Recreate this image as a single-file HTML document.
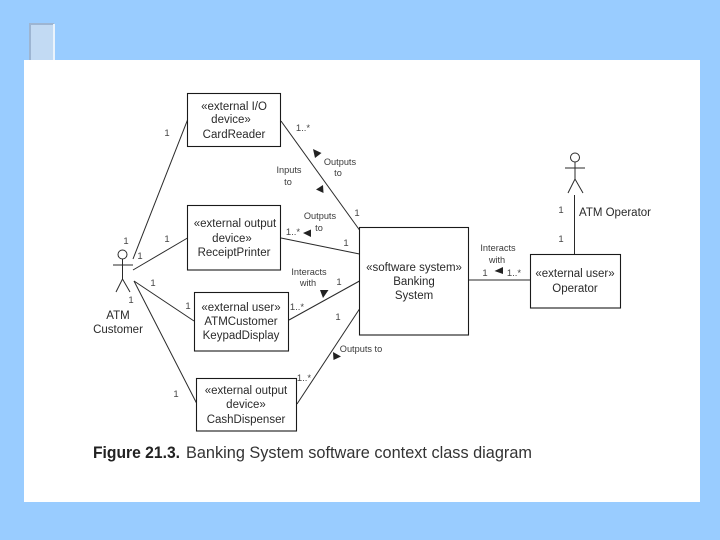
<!DOCTYPE html>
<html><head><meta charset="utf-8"><style>
html,body{margin:0;padding:0;width:720px;height:540px;overflow:hidden;background:#99CCFF}
svg{display:block}
text{font-family:"Liberation Sans",sans-serif;fill:#333;text-anchor:middle}
.b{font-size:11.5px;fill:#2a2a2a}
.s{font-size:9.2px;fill:#3a3a3a}
.n{font-size:9.5px;fill:#444}
rect.box{fill:#fff;stroke:#1a1a1a;stroke-width:1.1}
line,polyline{stroke:#2a2a2a;stroke-width:1;fill:none}
polygon{fill:#222}
.soft{filter:blur(0.3px)}
</style></head><body>
<svg width="720" height="540" viewBox="0 0 720 540" xmlns="http://www.w3.org/2000/svg">
<rect x="0" y="0" width="720" height="540" fill="#99CCFF"/>
<rect x="30" y="24" width="24" height="36" fill="#C2DAF3"/>
<rect x="29" y="24" width="2" height="36" fill="#9DB5D2"/>
<rect x="29" y="23" width="25" height="2" fill="#9DB5D2"/>
<rect x="53" y="24" width="2" height="36" fill="#EAF3FC"/>
<rect x="24" y="60" width="676" height="442" fill="#fff"/>

<g class="soft">
<!-- connectors -->
<line x1="187.5" y1="120" x2="133" y2="259"/>
<line x1="187.5" y1="238" x2="133" y2="270"/>
<line x1="194" y1="321" x2="134" y2="281"/>
<line x1="196.5" y1="403" x2="134" y2="281"/>
<line x1="281" y1="121" x2="359.5" y2="230"/>
<line x1="281" y1="238" x2="359.5" y2="254"/>
<line x1="289" y1="320" x2="359.5" y2="281"/>
<line x1="297" y1="404" x2="359.5" y2="309"/>
<line x1="468.5" y1="280" x2="530" y2="280"/>
<line x1="574.5" y1="195" x2="574.5" y2="254" stroke-width="1.2"/>

<!-- boxes -->
<rect class="box" x="187.5" y="93.5" width="93" height="53"/>
<rect class="box" x="187.5" y="205.5" width="93" height="64.5"/>
<rect class="box" x="194.5" y="292.5" width="94" height="58.5"/>
<rect class="box" x="196.5" y="378.5" width="100" height="52.5"/>
<rect class="box" x="359.5" y="227.5" width="109" height="107.5"/>
<rect class="box" x="530.5" y="254.5" width="90" height="53.5"/>

<!-- actors -->
<circle cx="122.5" cy="254.5" r="4.5" fill="#fff" stroke="#2a2a2a" stroke-width="1"/>
<line x1="122.5" y1="259" x2="122.5" y2="279"/>
<line x1="113" y1="265" x2="133" y2="265"/>
<polyline points="116,292 122.5,279 130,292"/>
<circle cx="575" cy="157.5" r="4.5" fill="#fff" stroke="#2a2a2a" stroke-width="1"/>
<line x1="575" y1="162" x2="575" y2="179"/>
<line x1="565" y1="168" x2="585" y2="168"/>
<polyline points="568,193 575,179 583,193"/>

<!-- arrowheads -->
<polygon points="313,149 321.5,153 315,158"/>
<polygon points="323,185 316,189.5 323.5,193"/>
<polygon points="303,233 311,229.5 311,237"/>
<polygon points="320,290 328.5,290 323,298"/>
<polygon points="333,352 341,356.5 333.5,360"/>
<polygon points="494.5,271 503,267 503,274"/>

<!-- box labels -->
<text class="b" x="234" y="110">«external I/O</text>
<text class="b" x="231" y="123">device»</text>
<text class="b" x="234" y="138">CardReader</text>
<text class="b" x="235" y="227">«external output</text>
<text class="b" x="232" y="242">device»</text>
<text class="b" x="234" y="256">ReceiptPrinter</text>
<text class="b" x="241" y="311">«external user»</text>
<text class="b" x="241" y="325">ATMCustomer</text>
<text class="b" x="241" y="339">KeypadDisplay</text>
<text class="b" x="246" y="394">«external output</text>
<text class="b" x="246" y="408">device»</text>
<text class="b" x="246" y="423">CashDispenser</text>
<text class="b" x="414" y="271">«software system»</text>
<text class="b" x="414" y="285">Banking</text>
<text class="b" x="414" y="299">System</text>
<text class="b" x="575" y="277">«external user»</text>
<text class="b" x="575" y="292">Operator</text>
<text class="b" x="118" y="319">ATM</text>
<text class="b" x="118" y="333">Customer</text>
<text class="b" x="615" y="216">ATM Operator</text>

<!-- connector labels -->
<text class="s" x="340" y="165">Outputs</text>
<text class="s" x="338" y="176">to</text>
<text class="s" x="289" y="173">Inputs</text>
<text class="s" x="288" y="185">to</text>
<text class="s" x="320" y="219">Outputs</text>
<text class="s" x="319" y="231">to</text>
<text class="s" x="309" y="275">Interacts</text>
<text class="s" x="308" y="286">with</text>
<text class="s" x="361" y="352">Outputs to</text>
<text class="s" x="498" y="251">Interacts</text>
<text class="s" x="497" y="263">with</text>

<!-- multiplicities -->
<text class="n" x="167" y="136">1</text>
<text class="n" x="167" y="242">1</text>
<text class="n" x="126" y="244">1</text>
<text class="n" x="140" y="259">1</text>
<text class="n" x="153" y="286">1</text>
<text class="n" x="131" y="303">1</text>
<text class="n" x="188" y="309">1</text>
<text class="n" x="176" y="397">1</text>
<text class="n" x="303" y="131">1..*</text>
<text class="n" x="293" y="235">1..*</text>
<text class="n" x="297" y="310">1..*</text>
<text class="n" x="304" y="381">1..*</text>
<text class="n" x="357" y="216">1</text>
<text class="n" x="346" y="246">1</text>
<text class="n" x="339" y="285">1</text>
<text class="n" x="338" y="320">1</text>
<text class="n" x="485" y="276">1</text>
<text class="n" x="514" y="276">1..*</text>
<text class="n" x="561" y="213">1</text>
<text class="n" x="561" y="242">1</text>

<!-- caption -->
<text x="93" y="458" style="text-anchor:start;font-size:17px;font-weight:bold;fill:#222" textLength="87" lengthAdjust="spacingAndGlyphs">Figure 21.3.</text>
<text x="186" y="458" style="text-anchor:start;font-size:17px;fill:#333" textLength="346" lengthAdjust="spacingAndGlyphs">Banking System software context class diagram</text>
</g>
</svg>
</body></html>
